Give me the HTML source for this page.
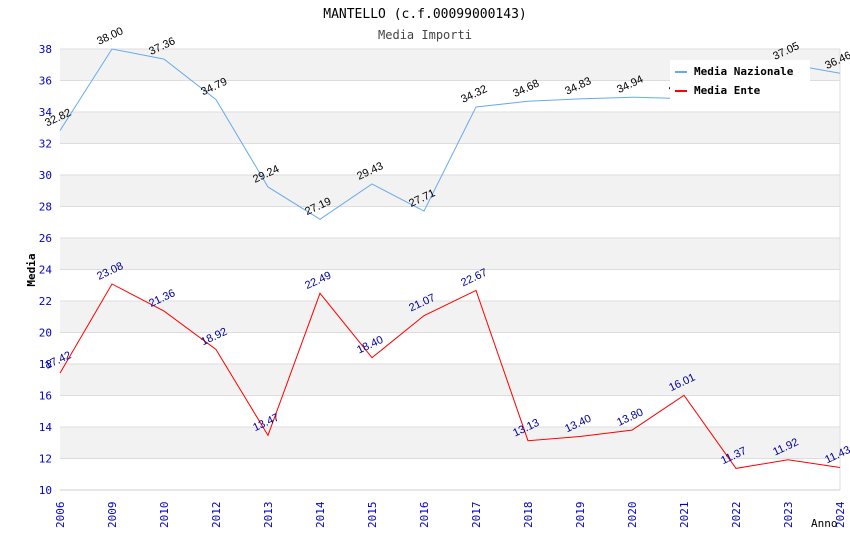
<!DOCTYPE html>
<html><head><meta charset="utf-8"><style>
body{margin:0;background:#fff;}
text{font-family:"DejaVu Sans Mono","Liberation Mono",monospace;}
text.val{font-family:"Liberation Sans",sans-serif;}
</style></head><body>
<svg id="c" width="850" height="550" xmlns="http://www.w3.org/2000/svg"></svg>
<script>
const categories=["2006","2009","2010","2012","2013","2014","2015","2016","2017","2018","2019","2020","2021","2022","2023","2024"];
const nazionale=[32.82,38.00,37.36,34.79,29.24,27.19,29.43,27.71,34.32,34.68,34.83,34.94,34.85,35.9,37.05,36.46];
const ente=[17.42,23.08,21.36,18.92,13.47,22.49,18.40,21.07,22.67,13.13,13.40,13.80,16.01,11.37,11.92,11.43];
const yTicks=[10,12,14,16,18,20,22,24,26,28,30,32,34,36,38];
const L=60,R=840,T=49,B=490,ymin=10,ymax=38;
const NS="http://www.w3.org/2000/svg";
const svg=document.getElementById('c');
function x(i){return L+i*(R-L)/(categories.length-1);}
function y(v){return B-(v-ymin)/(ymax-ymin)*(B-T);}
function mk(tag,attrs,parent){const e=document.createElementNS(NS,tag);for(const k in attrs)e.setAttribute(k,attrs[k]);(parent||svg).appendChild(e);return e;}
for(let i=0;i<yTicks.length-1;i++){
 const r=mk('rect',{x:L,y:y(yTicks[i+1]),width:R-L,height:y(yTicks[i])-y(yTicks[i+1]),fill:(i%2==0)?'#ffffff':'#f2f2f2'});
 
 
}
yTicks.forEach(v=>{
 const l=mk('line',{x1:L,x2:R,y1:y(v),y2:y(v),stroke:'#dddddd'});
 
 
 const t=mk('text',{x:L-8,y:y(v)+4,'text-anchor':'end','font-size':11,fill:'#0000cc'});
 t.textContent=v;
 
 
});
mk('line',{x1:R,x2:R,y1:T,y2:B,stroke:'#dddddd'});
mk('line',{x1:L,x2:R,y1:B,y2:B,stroke:'#cccccc'});
categories.forEach((c,i)=>{
 const t=mk('text',{x:x(i)+4,y:528,'text-anchor':'start','font-size':11,fill:'#0000cc',transform:`rotate(-90 ${x(i)+4} 528)`});
 t.textContent=c;
 
 
});
function series(vals,color,lblColor,name){
 const p=mk('polyline',{points:vals.map((v,i)=>x(i)+','+y(v)).join(' '),fill:'none',stroke:color,'stroke-width':1});
 
 
 vals.forEach((v,i)=>{
  const tx=x(i)-13,ty=y(v)-4;
  const t=mk('text',{x:tx,y:ty,'font-size':11,fill:lblColor,'class':'val',transform:`rotate(-25 ${tx} ${ty})`});
  t.textContent=v.toFixed(2);
  
  
 });
}
series(nazionale,'#66aaee','#000000','nazionale');
series(ente,'#ff0000','#000099','ente');
const lg=mk('rect',{x:670,y:60,width:140,height:40,fill:'#ffffff'});


mk('line',{x1:675,x2:687,y1:72,y2:72,stroke:'#66aaee','stroke-width':2});
mk('line',{x1:675,x2:687,y1:91,y2:91,stroke:'#ff0000','stroke-width':2});
let t=mk('text',{x:694,y:75,'font-size':11,'font-weight':'bold',fill:'#000'});t.textContent='Media Nazionale';


t=mk('text',{x:694,y:94,'font-size':11,'font-weight':'bold',fill:'#000'});t.textContent='Media Ente';


t=mk('text',{x:425,y:18,'text-anchor':'middle','font-size':13,fill:'#000'});t.textContent='MANTELLO (c.f.00099000143)';


t=mk('text',{x:425,y:39,'text-anchor':'middle','font-size':12,fill:'#444'});t.textContent='Media Importi';


t=mk('text',{x:35,y:270,'text-anchor':'middle','font-size':11,'font-weight':'bold',fill:'#000',transform:'rotate(-90 35 270)'});t.textContent='Media';


t=mk('text',{x:811,y:527,'font-size':11,fill:'#000'});t.textContent='Anno';


</script>
</body></html>
